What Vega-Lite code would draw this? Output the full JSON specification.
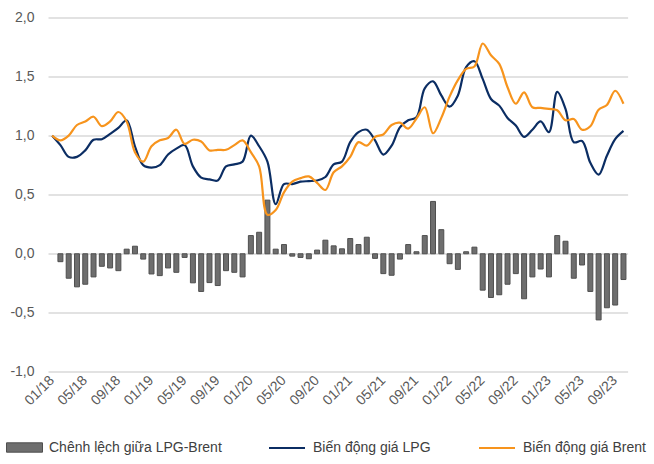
{
  "$schema": "https://vega.github.io/schema/vega-lite/v6.json",
  "autosize": {"type": "none"},
  "padding": {"left": 48, "top": 17.5, "right": 26.4, "bottom": 92.1},
  "width": 579.6,
  "height": 354.4,
  "background": "white",
  "config": {
    "view": {"stroke": null},
    "font": "Liberation Sans",
    "axis": {"labelFont": "Liberation Sans", "labelColor": "#595959", "labelFontSize": 14},
    "legend": {"labelFont": "Liberation Sans"}
  },
  "data": {"values": [
    {"t": "01/18", "lpg": 1.0, "brent": 1.0, "diff": null},
    {"t": "02/18", "lpg": 0.92, "brent": 0.96, "diff": -0.067},
    {"t": "03/18", "lpg": 0.82, "brent": 1.0, "diff": -0.207},
    {"t": "04/18", "lpg": 0.82, "brent": 1.09, "diff": -0.28},
    {"t": "05/18", "lpg": 0.875, "brent": 1.12, "diff": -0.258},
    {"t": "06/18", "lpg": 0.965, "brent": 1.16, "diff": -0.196},
    {"t": "07/18", "lpg": 0.97, "brent": 1.08, "diff": -0.106},
    {"t": "08/18", "lpg": 1.015, "brent": 1.12, "diff": -0.12},
    {"t": "09/18", "lpg": 1.065, "brent": 1.2, "diff": -0.143},
    {"t": "10/18", "lpg": 1.13, "brent": 1.12, "diff": 0.039},
    {"t": "11/18", "lpg": 0.91, "brent": 0.86, "diff": 0.064},
    {"t": "12/18", "lpg": 0.75, "brent": 0.78, "diff": -0.045},
    {"t": "01/19", "lpg": 0.73, "brent": 0.91, "diff": -0.171},
    {"t": "02/19", "lpg": 0.75, "brent": 0.96, "diff": -0.185},
    {"t": "03/19", "lpg": 0.84, "brent": 0.98, "diff": -0.12},
    {"t": "04/19", "lpg": 0.89, "brent": 1.05, "diff": -0.157},
    {"t": "05/19", "lpg": 0.92, "brent": 0.93, "diff": -0.031},
    {"t": "06/19", "lpg": 0.74, "brent": 0.965, "diff": -0.246},
    {"t": "07/19", "lpg": 0.645, "brent": 0.95, "diff": -0.319},
    {"t": "08/19", "lpg": 0.63, "brent": 0.875, "diff": -0.244},
    {"t": "09/19", "lpg": 0.62, "brent": 0.88, "diff": -0.269},
    {"t": "10/19", "lpg": 0.74, "brent": 0.88, "diff": -0.143},
    {"t": "11/19", "lpg": 0.757, "brent": 0.92, "diff": -0.157},
    {"t": "12/19", "lpg": 0.78, "brent": 0.96, "diff": -0.196},
    {"t": "01/20", "lpg": 1.0, "brent": 0.86, "diff": 0.154},
    {"t": "02/20", "lpg": 0.91, "brent": 0.74, "diff": 0.182},
    {"t": "03/20", "lpg": 0.78, "brent": 0.33, "diff": 0.454},
    {"t": "04/20", "lpg": 0.42, "brent": 0.37, "diff": 0.039},
    {"t": "05/20", "lpg": 0.59, "brent": 0.52, "diff": 0.078},
    {"t": "06/20", "lpg": 0.59, "brent": 0.61, "diff": -0.02},
    {"t": "07/20", "lpg": 0.61, "brent": 0.64, "diff": -0.031},
    {"t": "08/20", "lpg": 0.615, "brent": 0.655, "diff": -0.042},
    {"t": "09/20", "lpg": 0.62, "brent": 0.6, "diff": 0.031},
    {"t": "10/20", "lpg": 0.65, "brent": 0.54, "diff": 0.115},
    {"t": "11/20", "lpg": 0.757, "brent": 0.69, "diff": 0.067},
    {"t": "12/20", "lpg": 0.78, "brent": 0.74, "diff": 0.042},
    {"t": "01/21", "lpg": 0.945, "brent": 0.82, "diff": 0.129},
    {"t": "02/21", "lpg": 1.03, "brent": 0.945, "diff": 0.078},
    {"t": "03/21", "lpg": 1.05, "brent": 0.915, "diff": 0.14},
    {"t": "04/21", "lpg": 0.96, "brent": 0.99, "diff": -0.039},
    {"t": "05/21", "lpg": 0.84, "brent": 1.01, "diff": -0.168},
    {"t": "06/21", "lpg": 0.915, "brent": 1.09, "diff": -0.182},
    {"t": "07/21", "lpg": 1.07, "brent": 1.11, "diff": -0.045},
    {"t": "08/21", "lpg": 1.13, "brent": 1.06, "diff": 0.078},
    {"t": "09/21", "lpg": 1.155, "brent": 1.145, "diff": 0.017},
    {"t": "10/21", "lpg": 1.4, "brent": 1.24, "diff": 0.154},
    {"t": "11/21", "lpg": 1.46, "brent": 1.02, "diff": 0.443},
    {"t": "12/21", "lpg": 1.34, "brent": 1.15, "diff": 0.204},
    {"t": "01/22", "lpg": 1.245, "brent": 1.33, "diff": -0.084},
    {"t": "02/22", "lpg": 1.34, "brent": 1.47, "diff": -0.132},
    {"t": "03/22", "lpg": 1.58, "brent": 1.565, "diff": 0.017},
    {"t": "04/22", "lpg": 1.63, "brent": 1.585, "diff": 0.056},
    {"t": "05/22", "lpg": 1.48, "brent": 1.78, "diff": -0.308},
    {"t": "06/22", "lpg": 1.31, "brent": 1.68, "diff": -0.37},
    {"t": "07/22", "lpg": 1.254, "brent": 1.607, "diff": -0.347},
    {"t": "08/22", "lpg": 1.15, "brent": 1.41, "diff": -0.258},
    {"t": "09/22", "lpg": 1.085, "brent": 1.27, "diff": -0.168},
    {"t": "10/22", "lpg": 0.99, "brent": 1.367, "diff": -0.381},
    {"t": "11/22", "lpg": 1.05, "brent": 1.24, "diff": -0.196},
    {"t": "12/22", "lpg": 1.12, "brent": 1.235, "diff": -0.129},
    {"t": "01/23", "lpg": 1.03, "brent": 1.226, "diff": -0.196},
    {"t": "02/23", "lpg": 1.37, "brent": 1.215, "diff": 0.154},
    {"t": "03/23", "lpg": 1.226, "brent": 1.13, "diff": 0.106},
    {"t": "04/23", "lpg": 0.944, "brent": 1.14, "diff": -0.207},
    {"t": "05/23", "lpg": 0.955, "brent": 1.05, "diff": -0.095},
    {"t": "06/23", "lpg": 0.77, "brent": 1.08, "diff": -0.319},
    {"t": "07/23", "lpg": 0.67, "brent": 1.22, "diff": -0.56},
    {"t": "08/23", "lpg": 0.83, "brent": 1.26, "diff": -0.457},
    {"t": "09/23", "lpg": 0.97, "brent": 1.38, "diff": -0.434},
    {"t": "10/23", "lpg": 1.04, "brent": 1.27, "diff": -0.218}
  ]},
  "encoding": {
    "x": {
      "field": "t", "type": "ordinal", "sort": null,
      "scale": {
        "type": "band", "paddingInner": 0.4, "paddingOuter": 0.2,
        "domain": ["01/18","02/18","03/18","04/18","05/18","06/18","07/18","08/18","09/18","10/18","11/18","12/18",
                   "01/19","02/19","03/19","04/19","05/19","06/19","07/19","08/19","09/19","10/19","11/19","12/19",
                   "01/20","02/20","03/20","04/20","05/20","06/20","07/20","08/20","09/20","10/20","11/20","12/20",
                   "01/21","02/21","03/21","04/21","05/21","06/21","07/21","08/21","09/21","10/21","11/21","12/21",
                   "01/22","02/22","03/22","04/22","05/22","06/22","07/22","08/22","09/22","10/22","11/22","12/22",
                   "01/23","02/23","03/23","04/23","05/23","06/23","07/23","08/23","09/23","10/23"]
      },
      "axis": {
        "title": null, "domain": false, "ticks": false, "grid": false,
        "values": ["01/18","05/18","09/18","01/19","05/19","09/19","01/20","05/20","09/20","01/21","05/21","09/21","01/22","05/22","09/22","01/23","05/23","09/23"],
        "labelAngle": -45, "labelAlign": "right", "labelBaseline": "middle", "labelPadding": 6
      }
    }
  },
  "layer": [
    {
      "mark": {"type": "bar", "stroke": "#4f4f4f", "strokeWidth": 1},
      "encoding": {
        "y": {
          "field": "diff", "type": "quantitative",
          "scale": {"domain": [-1, 2], "nice": false, "zero": false},
          "axis": {
            "title": null, "domain": false, "ticks": false,
            "values": [-1, -0.5, 0, 0.5, 1, 1.5, 2],
            "labelExpr": "replace(replace(format(datum.value, '.1f'), '.', ','), '\u2212', '-')",
            "labelPadding": 14,
            "gridColor": "#d9d9d9", "gridWidth": 1.5
          }
        },
        "fill": {
          "datum": "Chênh lệch giữa LPG-Brent", "type": "nominal",
          "scale": {"domain": ["Chênh lệch giữa LPG-Brent"], "range": ["#6e6e6e"]},
          "legend": {
            "title": null, "orient": "none", "direction": "horizontal",
            "legendX": -42, "legendY": 411.5, "padding": 0,
            "symbolType": "M-1,-0.26H1V0.26H-1Z", "symbolSize": 1296,
            "symbolStrokeColor": "#4f4f4f", "symbolStrokeWidth": 1,
            "labelOffset": 6, "labelFontSize": 14, "labelColor": "#404040", "labelLimit": 400
          }
        }
      }
    },
    {
      "mark": {"type": "line", "interpolate": "catmull-rom", "strokeWidth": 2.2},
      "encoding": {
        "y": {"field": "lpg", "type": "quantitative"},
        "stroke": {
          "datum": "Biến động giá LPG", "type": "nominal",
          "scale": {"domain": ["Biến động giá LPG", "Biến động giá Brent"], "range": ["#0b2d63", "#f7941d"]},
          "legend": {
            "title": null, "orient": "none", "direction": "horizontal",
            "legendX": 220, "legendY": 411.5, "padding": 0,
            "symbolType": "stroke", "symbolSize": 1296, "symbolStrokeWidth": 2,
            "labelOffset": 7, "columnPadding": 44,
            "labelFontSize": 14, "labelColor": "#404040", "labelLimit": 400
          }
        }
      }
    },
    {
      "mark": {"type": "line", "interpolate": "catmull-rom", "strokeWidth": 2.2},
      "encoding": {
        "y": {"field": "brent", "type": "quantitative"},
        "stroke": {"datum": "Biến động giá Brent", "type": "nominal"}
      }
    }
  ]
}
